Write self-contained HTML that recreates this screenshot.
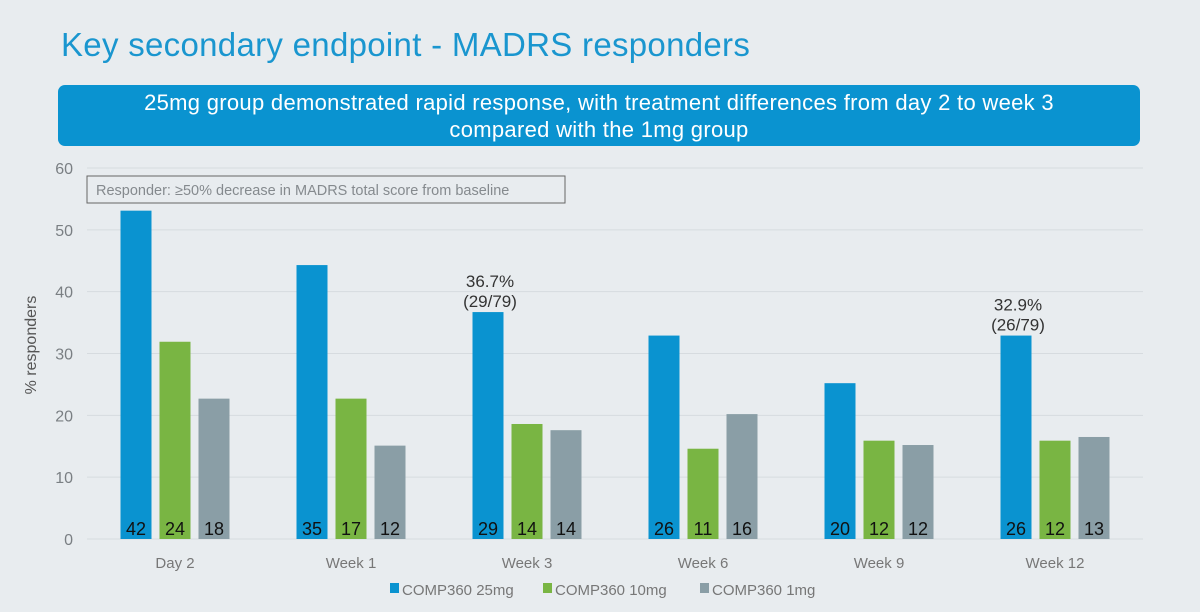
<!DOCTYPE html>
<html><head><meta charset="utf-8"><style>
body{margin:0;width:1200px;height:612px;background:#e8ecef;overflow:hidden;font-family:"Liberation Sans",sans-serif;}
#title{position:absolute;left:61px;top:26px;font-size:33px;color:#1a96cf;letter-spacing:0.3px;}
#banner{position:absolute;left:58px;top:85px;width:1082px;height:61px;background:#0a93d0;border-radius:7px;color:#fff;font-size:22px;text-align:center;line-height:27px;padding-top:4px;box-sizing:border-box;letter-spacing:0.3px;}
</style></head><body>
<div id="title">Key secondary endpoint - MADRS responders</div>
<div id="banner">25mg group demonstrated rapid response, with treatment differences from day 2 to week 3<br>compared with the 1mg group</div>
<svg id="chart" width="1200" height="612" style="position:absolute;left:0;top:0"></svg>
<script>
const categories=["Day 2","Week 1","Week 3","Week 6","Week 9","Week 12"];
const seriesNames=["COMP360 25mg","COMP360 10mg","COMP360 1mg"];
const pct25=[53.1,44.3,36.7,32.9,25.2,32.9];
const pct10=[31.9,22.7,18.6,14.6,15.9,15.9];
const pct1=[22.7,15.1,17.6,20.2,15.2,16.5];
const n25=[42,35,29,26,20,26];
const n10=[24,17,14,11,12,12];
const n1=[18,12,14,16,12,13];
const yTicks=[0,10,20,30,40,50,60];
const annotations=[{cat:2,l1:"36.7%",l2:"(29/79)"},{cat:5,l1:"32.9%",l2:"(26/79)"}];
const colors=["#0a93d0","#79b543","#8a9ea6"];
const svg=document.getElementById('chart');const NS="http://www.w3.org/2000/svg";
const X0=87,X1=1143,Y0=539,Y1=168;
const y=v=>Y0-(v/60)*(Y0-Y1);
const xc=i=>X0+(X1-X0)/categories.length*(i+0.5);
function mk(t,a,txt){const e=document.createElementNS(NS,t);for(const k in a)e.setAttribute(k,a[k]);if(txt!==undefined)e.textContent=txt;svg.appendChild(e);return e;}
yTicks.forEach(t=>{
 const g=mk('line',{x1:X0,x2:X1,y1:y(t),y2:y(t),stroke:'#d6dbdf','stroke-width':1});
 
 
 const l=mk('text',{x:73,y:y(t)+6,'text-anchor':'end','font-size':16,fill:'#7a7f83'},t);
 
 
});
const yt=mk('text',{x:0,y:0,transform:'translate(36,345) rotate(-90)','text-anchor':'middle','font-size':16,fill:'#555'},'% responders');


const nb=mk('rect',{x:87,y:176,width:478,height:27,fill:'none',stroke:'#666','stroke-width':1});


const nt=mk('text',{x:96,y:195,'font-size':14.5,fill:'#858a8e'},'Responder: ≥50% decrease in MADRS total score from baseline');


const series=[pct25,pct10,pct1],counts=[n25,n10,n1];
categories.forEach((c,i)=>{
 series.forEach((s,j)=>{
  const cx=xc(i)+(j-1)*39;
  const r=mk('rect',{x:cx-15.5,y:y(s[i]),width:31,height:Y0-y(s[i]),fill:colors[j]});
  
  
  const t=mk('text',{x:cx,y:535,'text-anchor':'middle','font-size':18,fill:'#111'},counts[j][i]);
  
  
 });
 const cl=mk('text',{x:xc(i),y:568,'text-anchor':'middle','font-size':15,fill:'#777'},c);
 
 
});
annotations.forEach(a=>{
 const cx=xc(a.cat)-39;
 const t1=mk('text',{x:cx+2,y:y(pct25[a.cat])-25,'text-anchor':'middle','font-size':17,fill:'#333'},a.l1);
 
 
 const t2=mk('text',{x:cx+2,y:y(pct25[a.cat])-5,'text-anchor':'middle','font-size':17,fill:'#333'},a.l2);
 
 
});
const lx=[390,543,700];
seriesNames.forEach((n,j)=>{
 const r=mk('rect',{x:lx[j],y:583,width:9,height:10,fill:colors[j]});
 
 
 const t=mk('text',{x:lx[j]+12,y:595,'font-size':15,fill:'#777'},n);
 
 
});
</script>
</body></html>
